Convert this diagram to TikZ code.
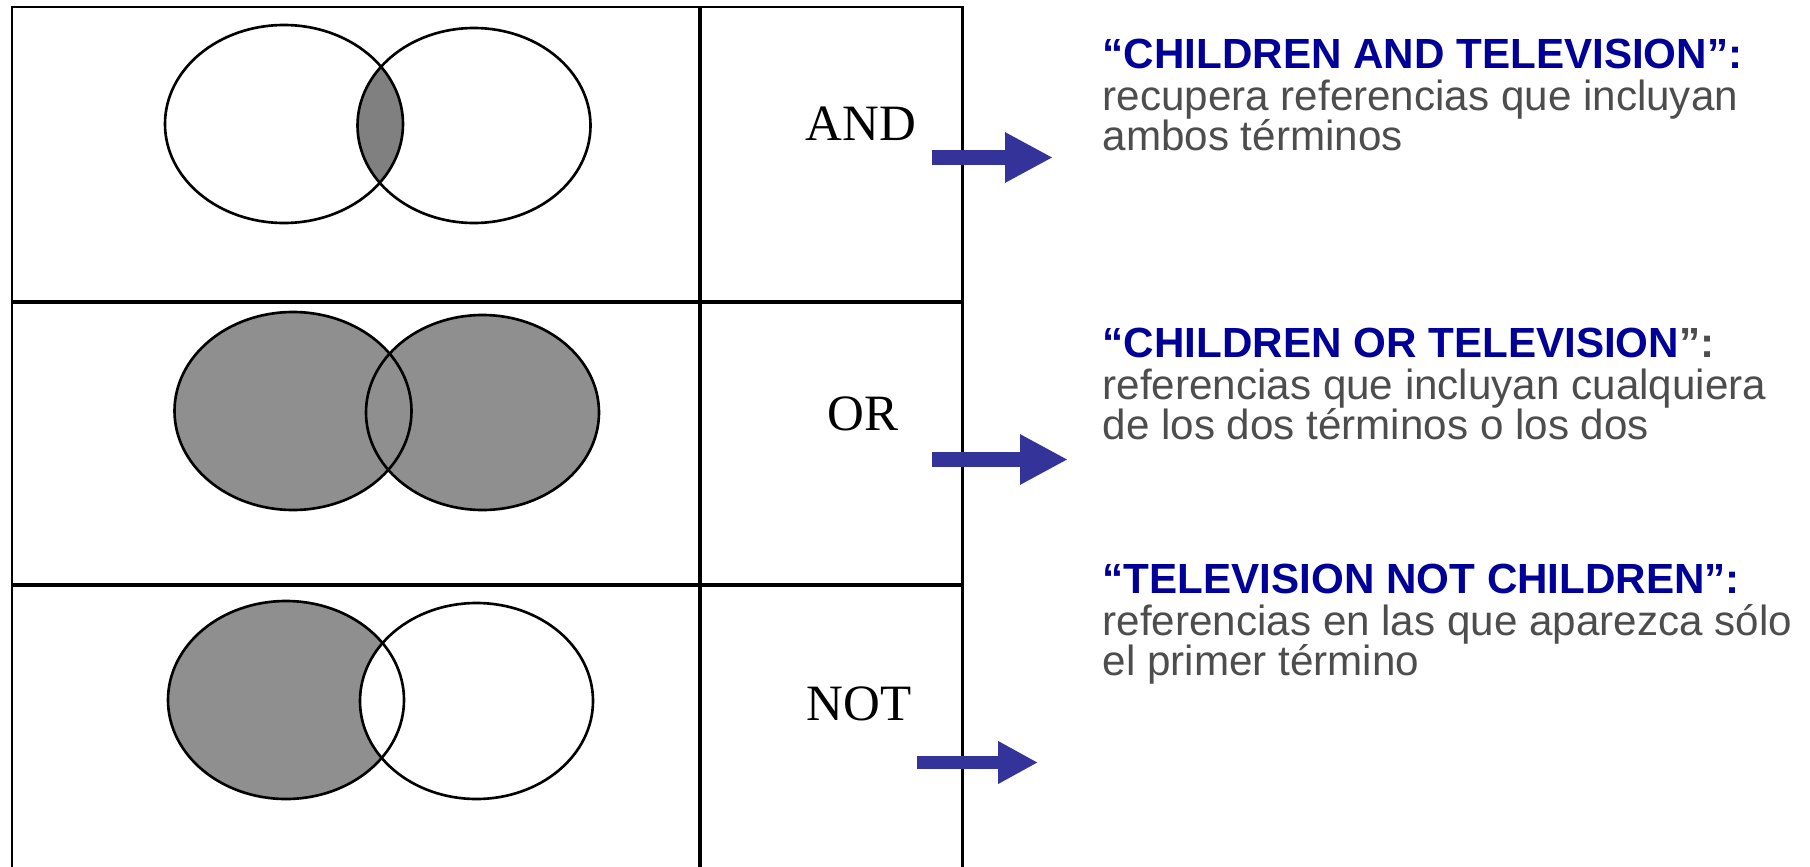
\documentclass[tikz,border=0pt]{standalone}
\usepackage{fontspec}
\setmainfont{Liberation Sans}
\newfontfamily\opfont{Liberation Serif}
\usetikzlibrary{arrows.meta}
\definecolor{headblue}{RGB}{0,0,153}
\definecolor{bodygray}{RGB}{77,77,77}
\definecolor{arrowblue}{RGB}{51,51,153}
\definecolor{venngray}{RGB}{143,143,143}
\definecolor{lensgray}{RGB}{128,128,128}

\begin{document}
\begin{tikzpicture}[
        frame/.style={line width=0.85pt},
        rule/.style={line width=1.4pt},
        venn/.style={line width=0.75pt},
        oplabel/.style={font=\opfont\fontsize{14.5}{14.5}\selectfont, anchor=base, inner sep=0pt},
        headtxt/.style={font=\bfseries\fontsize{12}{12}\selectfont, text=headblue, anchor=base west, inner sep=0pt},
        bodytxt/.style={font=\fontsize{12}{12}\selectfont, text=bodygray, anchor=base west, inner sep=0pt},
        bluearrow/.style={draw=arrowblue, line width=0.15cm, -{Triangle[length=0.48cm, width=0.47cm]}}]

        \path[use as bounding box, fill=white] (0,0) rectangle (18.10,-8.66);

        % table
        \draw[frame] (0.12,-8.8) -- (0.12,-0.07) -- (9.62,-0.07) -- (9.62,-8.8);
        \draw[rule] (7.00,-0.07) -- (7.00,-8.8);
        \draw[rule] (0.12,-3.02) -- (9.62,-3.02);
        \draw[rule] (0.12,-5.85) -- (9.62,-5.85);

        % AND
        \begin{scope}
            \clip (2.84,-1.24) ellipse (1.19 and 0.99);
            \fill[lensgray] (4.74,-1.255) ellipse (1.165 and 0.975);
        \end{scope}
        \draw[venn] (2.84,-1.24) ellipse (1.19 and 0.99);
        \draw[venn] (4.74,-1.255) ellipse (1.165 and 0.975);

        % OR
        \fill[venngray] (2.93,-4.11) ellipse (1.185 and 0.99) (4.825,-4.125) ellipse (1.165 and 0.975);
        \draw[venn] (2.93,-4.11) ellipse (1.185 and 0.99);
        \draw[venn] (4.825,-4.125) ellipse (1.165 and 0.975);

        % NOT
        \fill[venngray] (2.86,-7.00) ellipse (1.18 and 0.99);
        \fill[white] (4.765,-7.01) ellipse (1.165 and 0.98);
        \draw[venn] (2.86,-7.00) ellipse (1.18 and 0.99);
        \draw[venn] (4.765,-7.01) ellipse (1.165 and 0.98);

        \node[oplabel] (andop) at (8.61,-1.40) {AND};
        \node[oplabel] (orop) at (8.63,-4.30) {OR};
        \node[oplabel] (notop) at (8.59,-7.20) {NOT};

        % arrows
        \coordinate (andA) at (9.32,-1.575);
        \coordinate (andB) at (10.53,-1.575);
        \coordinate (orA) at (9.32,-4.595);
        \coordinate (orB) at (10.68,-4.595);
        \coordinate (notA) at (9.17,-7.625);
        \coordinate (notB) at (10.38,-7.625);
        \draw[bluearrow] (andA) -- (andB);
        \draw[bluearrow] (orA) -- (orB);
        \draw[bluearrow, line width=0.13cm, -{Triangle[length=0.40cm, width=0.40cm]}] (notA) -- (notB);

        % texts
        \node[headtxt] (andhead) at (11.02,-0.68) {“CHILDREN AND TELEVISION”:};
        \node[bodytxt] (andl1) at (11.02,-1.10) {recupera referencias que incluyan};
        \node[bodytxt] (andl2) at (11.02,-1.50) {ambos términos};

        \node[headtxt] (orhead) at (11.02,-3.57) {“CHILDREN OR TELEVISION\textcolor{bodygray}{”:}};
        \node[bodytxt] (orl1) at (11.02,-3.99) {referencias que incluyan cualquiera};
        \node[bodytxt] (orl2) at (11.02,-4.39) {de los dos términos o los dos};

        \node[headtxt] (nothead) at (11.02,-5.93) {“TELEVISION NOT CHILDREN”:};
        \node[bodytxt] (notl1) at (11.02,-6.35) {referencias en las que aparezca sólo};
        \node[bodytxt] (notl2) at (11.02,-6.75) {el primer término};
    \end{tikzpicture}
\end{document}
